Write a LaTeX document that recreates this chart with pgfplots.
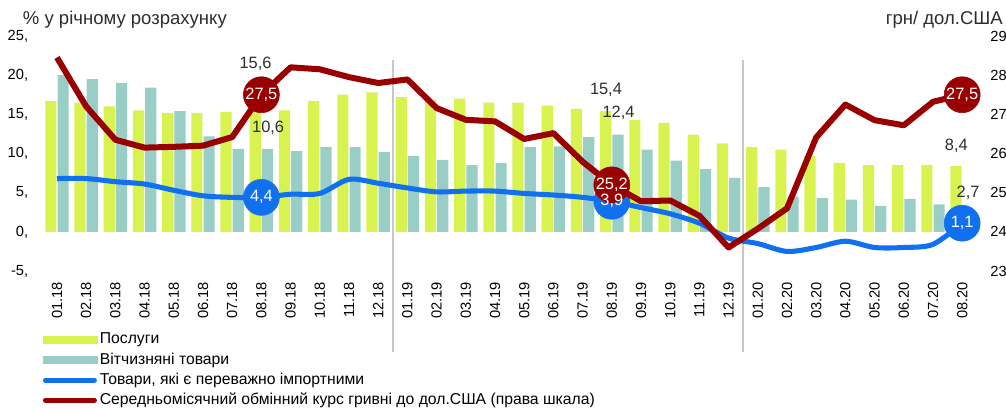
\documentclass[border=0pt]{standalone}
\usepackage{fontspec}
\setmainfont{Liberation Sans}
\usepackage{pgfplots}
\usepackage{pgfplotstable}
\pgfplotsset{compat=1.18}

\definecolor{cY}{RGB}{216,242,80}
\definecolor{cT}{RGB}{153,206,199}
\definecolor{cB}{RGB}{16,112,240}
\definecolor{cR}{RGB}{153,0,0}
\definecolor{cTxt}{RGB}{45,45,45}
\definecolor{cSep}{RGB}{200,200,200}

% i: month index, y: services, t: domestic goods, b: mostly imported goods, r: UAH/USD
\pgfplotstableread{
i  y     t     b     r
0  16.7  20.0  6.8   28.45
1  16.5  19.5  6.8   27.20
2  16.0  19.0  6.4   26.35
3  15.5  18.4  6.1   26.15
4  15.2  15.4  5.3   26.17
5  15.2  12.2  4.6   26.20
6  15.3  10.6  4.4   26.42
7  15.6  10.6  4.4   27.50
8  15.5  10.3  4.8   28.20
9  16.7  10.8  4.9   28.15
10 17.5  10.8  6.7   27.95
11 17.8  10.2  6.2   27.80
12 17.2  9.7   5.6   27.89
13 16.9  9.2   5.1   27.16
14 17.0  8.5   5.2   26.86
15 16.5  8.8   5.2   26.82
16 16.5  10.8  4.9   26.37
17 16.1  10.9  4.7   26.52
18 15.7  12.1  4.4   25.79
19 15.4  12.4  3.9   25.20
20 14.3  10.5  3.1   24.78
21 13.9  9.1   2.3   24.80
22 12.4  8.0   1.1   24.41
23 11.3  6.9   -0.8  23.60
24 10.8  5.7   -1.5  24.08
25 10.5  4.5   -2.5  24.60
26 9.7   4.3   -2.0  26.41
27 8.8   4.1   -1.2  27.25
28 8.5   3.3   -2.0  26.85
29 8.5   4.2   -2.0  26.72
30 8.5   3.5   -1.6  27.32
31 8.4   2.7   1.1   27.50
}\data

\begin{document}
\begin{tikzpicture}[font=\fontsize{11}{13}\selectfont]
\pgfplotsset{
  common/.style={
    width=700.8pt, height=176.25pt, scale only axis,
    xmin=-0.5, xmax=31.5, clip=false,
    axis line style={draw=none},
    major tick length=0pt,
    tick label style={inner sep=0pt, black, font=\fontsize{11}{13}\selectfont},
  },
  bubble/.style={only marks, mark=*, mark size=13.5pt},
  bubbletext/.style={
    point meta=explicit symbolic, nodes near coords, nodes near coords align={center},
    every node near coord/.style={white, anchor=center, font=\fontsize{12.3}{14}\selectfont}},
}
% left scale: bars and the blue line
\begin{axis}[common,
  ymin=-5, ymax=25,
  axis x line*=bottom, axis y line*=left,
  xtick={0,...,31},
  xticklabels={01.18,02.18,03.18,04.18,05.18,06.18,07.18,08.18,09.18,10.18,11.18,12.18,
               01.19,02.19,03.19,04.19,05.19,06.19,07.19,08.19,09.19,10.19,11.19,12.19,
               01.20,02.20,03.20,04.20,05.20,06.20,07.20,08.20},
  xticklabel style={rotate=90, anchor=east},
  xticklabel shift=8.25pt,
  ytick={-5,0,...,25},
  yticklabels={{-5,},{0,},{5,},{10,},{15,},{20,},{25,}},
  yticklabel shift=10.5pt,
]
\coordinate (ll) at (rel axis cs:0,0);
\coordinate (ur) at (rel axis cs:1,1);
\draw[cSep, line width=1.5pt] (axis cs:11.5,21.9) -- (axis cs:11.5,-15.3);
\draw[cSep, line width=1.5pt] (axis cs:23.5,21.9) -- (axis cs:23.5,-15.3);

\addplot[ybar, bar width=8.4pt, bar shift=-4.6pt, fill=cY, draw=none] table[x=i, y=y]{\data};
\addplot[ybar, bar width=8.4pt, bar shift=4.6pt, fill=cT, draw=none] table[x=i, y=t]{\data};
\addplot[cB, line width=3.8pt, smooth, line join=round] table[x=i, y=b]{\data};
\addplot[bubble, cB] coordinates {(7,4.4) (19,3.9) (31,1.1)};

\begin{scope}[every node/.style={cTxt, font=\fontsize{12.3}{14}\selectfont}]
\node at (axis cs:6.8,21.4) {15,6};
\node at (axis cs:7.23,13.3) {10,6};
\node at (axis cs:18.8,18.1) {15,4};
\node at (axis cs:19.23,15.2) {12,4};
\node at (axis cs:30.8,11.0) {8,4};
\node at (axis cs:31.2,5.0) {2,7};
\end{scope}

\node[anchor=west, inner sep=0pt, cTxt, font=\fontsize{13.9}{16}\selectfont]
  at ([xshift=-14.8pt, yshift=12pt]rel axis cs:0,1) {\% у річному розрахунку};
\node[anchor=east, inner sep=0pt, cTxt, font=\fontsize{13.9}{16}\selectfont]
  at ([xshift=19.7pt, yshift=12pt]rel axis cs:1,1) {грн/ дол.США};
\end{axis}

% right scale: exchange rate
\begin{axis}[common,
  ymin=23, ymax=29,
  axis x line=none, axis y line*=right,
  ytick={23,...,29},
  yticklabels={23,24,25,26,27,28,29},
  yticklabel shift=10pt,
  legend cell align=left,
  legend style={at={(0,-0.258)}, anchor=north west, draw=none, fill=none,
    inner sep=0pt, row sep=3.1pt,
    font=\fontsize{11.8}{13}\selectfont,
    nodes={inner ysep=0pt, text height=9pt, text depth=3pt},
    /tikz/every even column/.append style={column sep=0pt}},
]
\addlegendimage{legend image code/.code={\fill[cY] (0pt,-2.7pt) rectangle (40.5pt,2.7pt);}}
\addlegendentry{Послуги}
\addlegendimage{legend image code/.code={\fill[cT] (0pt,-2.7pt) rectangle (40.5pt,2.7pt);}}
\addlegendentry{Вітчизняні товари}
\addlegendimage{legend image code/.code={\draw[cB, line width=3.8pt, line cap=round] (1.9pt,0pt) -- (38.6pt,0pt);}}
\addlegendentry{Товари, які є переважно імпортними}
\addplot[cR, line width=4.5pt, line join=round,
  legend image code/.code={\draw[cR, line width=3.8pt, line cap=round] (1.9pt,0pt) -- (38.6pt,0pt);}]
  table[x=i, y=r]{\data};
\addlegendentry{Середньомісячний обмінний курс гривні до дол.США (права шкала)}
\addplot[bubble, bubbletext, cR, forget plot]
  coordinates {(7,27.5) [27,5] (19,25.2) [25,2] (31,27.5) [27,5]};
\end{axis}

% left scale again, on top: value labels of the blue line
\begin{axis}[common, ymin=-5, ymax=25, hide axis]
\addplot[only marks, mark=none, bubbletext]
  coordinates {(7,4.4) [4,4] (19,3.9) [3,9] (31,1.1) [1,1]};
\end{axis}

\pgfresetboundingbox
\useasboundingbox ([xshift=-31.8pt, yshift=-102.75pt]ll) rectangle ([xshift=21.9pt, yshift=27pt]ur);
\end{tikzpicture}
\end{document}
